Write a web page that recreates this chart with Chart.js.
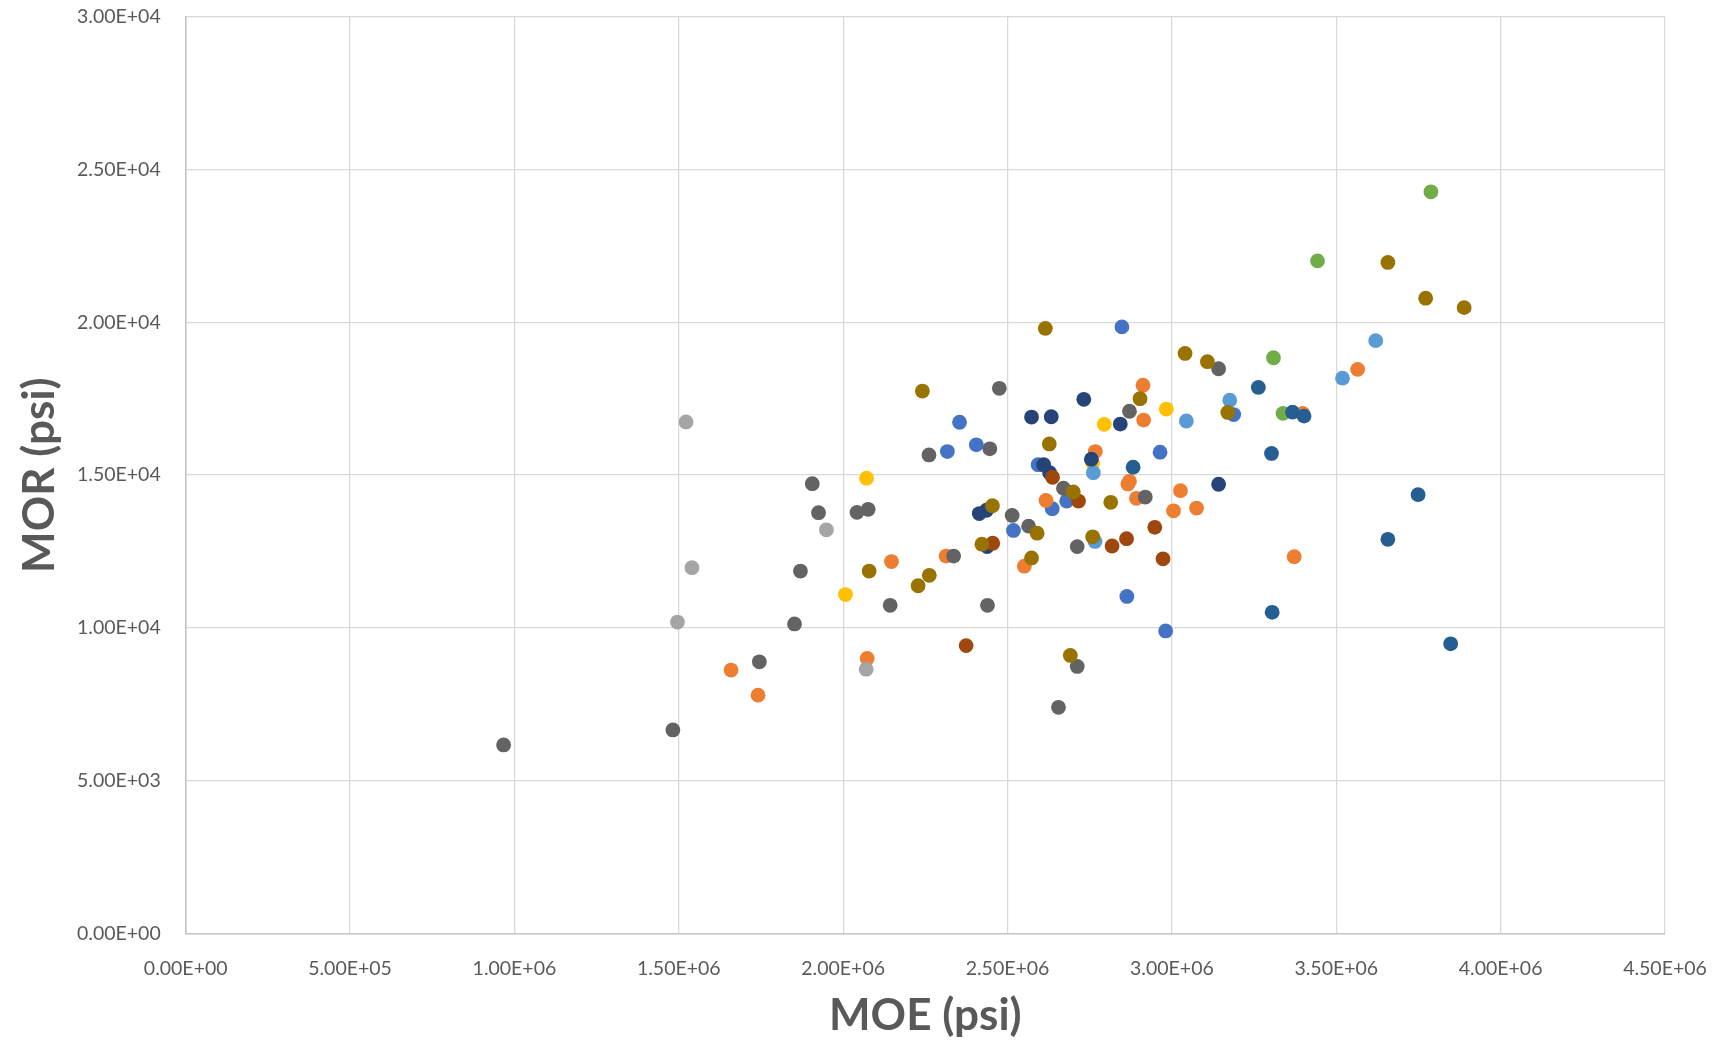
<!DOCTYPE html>
<html>
<head>
<meta charset="utf-8">
<script src="https://cdn.jsdelivr.net/npm/chart.js@4.4.1/dist/chart.umd.min.js"></script>
<style>
  html, body { margin: 0; padding: 0; background: #fff; }
  #wrap { width: 1717px; height: 1045px; }
</style>
</head>
<body>
<div id="wrap"><canvas id="morChart" width="1717" height="1045"></canvas></div>
<script>
// MOE (psi), MOR (psi) pairs per series
const series1 = [[2.848e6,19850],[2.354e6,16730],[2.405e6,15990],[2.317e6,15770],[2.964e6,15750],[2.593e6,15340],[3.188e6,16980],[2.680e6,14150],[2.636e6,13900],[2.518e6,13190],[2.863e6,11030],[2.981e6,9900]];
const series2 = [[2.912e6,17940],[2.914e6,16800],[2.767e6,15770],[2.871e6,14800],[2.866e6,14710],[3.026e6,14490],[2.617e6,14170],[2.892e6,14240],[3.005e6,13830],[3.075e6,13920],[2.313e6,12350],[2.551e6,12020],[2.147e6,12170],[1.659e6,8620],[1.741e6,7800],[2.073e6,9000],[3.372e6,12330],[3.565e6,18460],[3.398e6,17020]];
const series3 = [[1.522e6,16740],[1.949e6,13210],[1.540e6,11970],[1.496e6,10190],[2.070e6,8650]];
const series4 = [[2.071e6,14900],[2.007e6,11090],[2.983e6,17160],[2.794e6,16660],[2.759e6,15400]];
const series5 = [[3.176e6,17450],[3.044e6,16770],[2.761e6,15080],[2.766e6,12830],[3.620e6,19400],[3.519e6,18170]];
const series6 = [[3.309e6,18840],[3.338e6,17020],[3.788e6,24270],[3.443e6,22010]];
const series7 = [[2.732e6,17480],[2.843e6,16670],[2.573e6,16900],[2.633e6,16910],[2.755e6,15520],[2.610e6,15340],[2.628e6,15080],[3.142e6,14700],[2.414e6,13740],[2.436e6,13850],[2.438e6,12660]];
const series8 = [[2.637e6,14930],[2.716e6,14150],[2.948e6,13290],[2.818e6,12680],[2.862e6,12920],[2.973e6,12260],[2.455e6,12770],[2.374e6,9420]];
const series9 = [[3.142e6,18480],[2.475e6,17840],[2.871e6,17090],[2.446e6,15860],[2.261e6,15660],[2.670e6,14570],[2.919e6,14280],[2.514e6,13680],[2.564e6,13330],[2.712e6,12660],[2.336e6,12350],[2.439e6,10740],[2.712e6,8740],[2.655e6,7400],[1.906e6,14720],[1.925e6,13770],[2.042e6,13780],[2.076e6,13880],[1.870e6,11860],[2.143e6,10740],[1.852e6,10130],[1.745e6,8890],[1.482e6,6660],[0.967e6,6170]];
const series10 = [[2.615e6,19800],[3.040e6,18980],[3.108e6,18710],[2.241e6,17750],[2.903e6,17500],[3.170e6,17050],[2.627e6,16020],[2.700e6,14450],[2.814e6,14110],[2.454e6,14000],[2.590e6,13100],[2.759e6,12980],[2.422e6,12740],[2.573e6,12290],[2.262e6,11720],[2.228e6,11380],[2.079e6,11860],[2.691e6,9100],[3.657e6,21960],[3.772e6,20790],[3.889e6,20480]];
const series11 = [[3.263e6,17870],[3.367e6,17060],[3.402e6,16930],[3.303e6,15710],[2.882e6,15260],[3.305e6,10510],[3.749e6,14360],[3.657e6,12900],[3.848e6,9480]];

const allSeries = [series1,series2,series3,series4,series5,series6,series7,series8,series9,series10,series11];
const colors = ["#4472C4","#ED7D31","#A5A5A5","#FFC000","#5B9BD5","#70AD47","#264478","#9E480E","#636363","#997300","#255E91"];

// 1.50E+06 style labels
function sci(v){
    const parts = Number(v).toExponential(2).split("e");
    const sign = parts[1][0];
    const exp = parts[1].slice(1).padStart(2,"0");
    return parts[0] + "E" + sign + exp;
}

const textGray = "#595959";

// keep the plot box fixed, the auto label padding would shrink it
function noPad(scale){
    scale.paddingTop = 0;
    scale.paddingBottom = 0;
    scale.paddingLeft = 0;
    scale.paddingRight = 0;
}

const datasets = allSeries.map((s,i)=>({
    label:"Series" + (i+1),
    data:s.map(p=>({x:p[0], y:p[1]})),
    backgroundColor:colors[i],
    borderColor:colors[i],
    borderWidth:0,
    pointRadius:7.4,
    pointHoverRadius:7.4,
    order:allSeries.length - i
}));

const ctx = document.getElementById("morChart");

new Chart(ctx,{
    type:"scatter",
    data:{ datasets:datasets },
    options:{
        responsive:false,
        animation:false,
        layout:{
            padding:{ left:0, top:16.7, right:52, bottom:0 }
        },
        plugins:{
            legend:{ display:false },
            tooltip:{ enabled:false }
        },
        scales:{
            x:{
                type:"linear",
                min:0,
                max:4.5e6,
                afterFit:(scale)=>{ scale.height = 111.5; noPad(scale); },
                ticks:{
                    stepSize:5e5,
                    color:textGray,
                    padding:24,
                    font:{ family:"Lato", size:19.5 },
                    callback:(v)=>sci(v)
                },
                grid:{ color:"#d9d9d9", lineWidth:1.3, drawTicks:false },
                border:{ color:"#c6c6c6", width:1.6 },
                title:{
                    display:true,
                    text:"MOE (psi)",
                    color:textGray,
                    font:{ family:"Lato", size:44, weight:"bold" },
                    padding:{ top:0, bottom:3 }
                }
            },
            y:{
                type:"linear",
                min:0,
                max:30000,
                afterFit:(scale)=>{ scale.width = 185.7; noPad(scale); },
                ticks:{
                    stepSize:5000,
                    color:textGray,
                    padding:25,
                    font:{ family:"Lato", size:19.5 },
                    callback:(v)=>sci(v)
                },
                grid:{ color:"#d9d9d9", lineWidth:1.3, drawTicks:false },
                border:{ color:"#c6c6c6", width:1.6 },
                title:{
                    display:true,
                    text:"MOR (psi)",
                    color:textGray,
                    font:{ family:"Lato", size:44, weight:"bold" },
                    padding:{ top:13, bottom:0 }
                }
            }
        }
    }
});
</script>
</body>
</html>
